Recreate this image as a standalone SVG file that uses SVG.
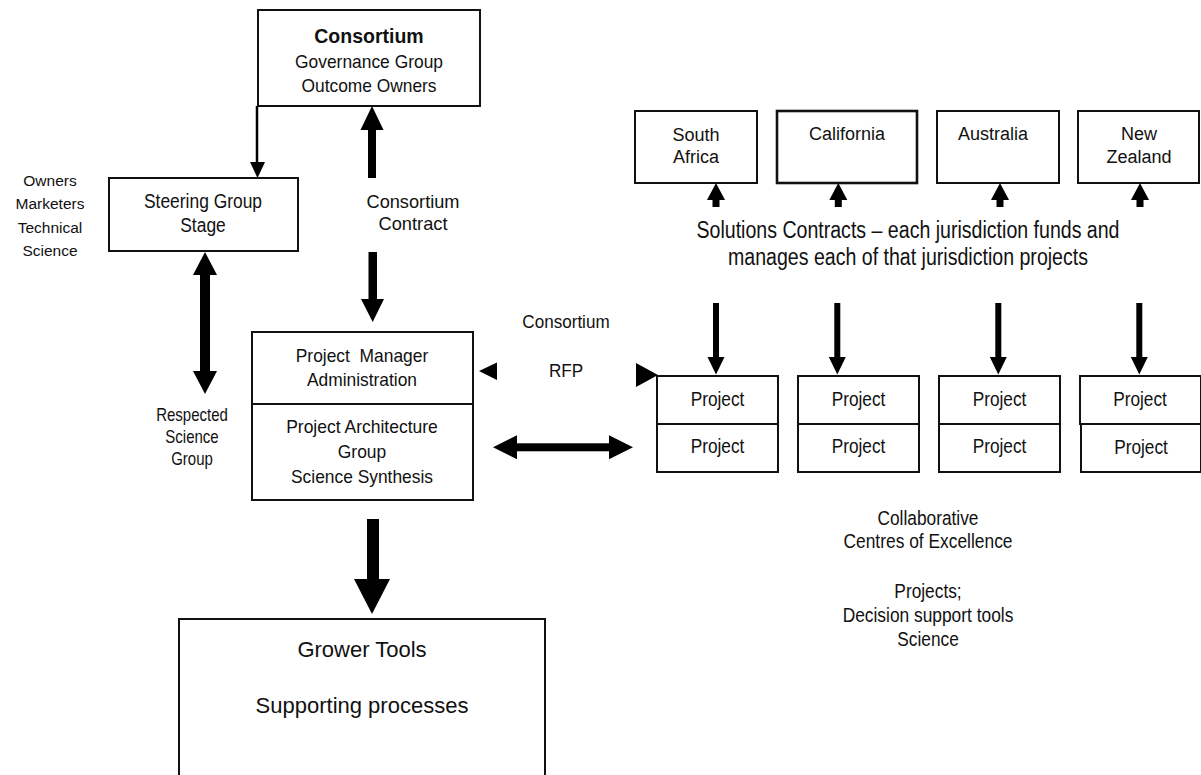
<svg xmlns="http://www.w3.org/2000/svg" width="1201" height="775" viewBox="0 0 1201 775">
<style>
text{font-family:"Liberation Sans",Arial,sans-serif;fill:#111;text-anchor:middle}
.box{fill:#fff;stroke:#111;stroke-width:2}
.arr{fill:#000;stroke:none}
.b{font-weight:bold}
</style>
<rect x="0" y="0" width="1201" height="775" fill="#fff"/>

<g id="consortium">
<rect class="box" x="258" y="10" width="222" height="96"/>
<text class="b" x="369" y="43" font-size="19.5">Consortium</text>
<text x="369" y="68" font-size="18.6" textLength="148" lengthAdjust="spacingAndGlyphs">Governance Group</text>
<text x="369" y="92" font-size="18.6" textLength="135" lengthAdjust="spacingAndGlyphs">Outcome Owners</text>
</g>

<g id="owners-label">
<text x="50" y="186" font-size="15.5">Owners</text>
<text x="50" y="209" font-size="15.5">Marketers</text>
<text x="50" y="233" font-size="15.5">Technical</text>
<text x="50" y="256" font-size="15.5">Science</text>
</g>

<g id="steering">
<rect class="box" x="109" y="178" width="189" height="73"/>
<text x="203" y="208" font-size="20" textLength="118" lengthAdjust="spacingAndGlyphs">Steering Group</text>
<text x="203" y="232" font-size="20" textLength="45.5" lengthAdjust="spacingAndGlyphs">Stage</text>
</g>

<g id="contract-label">
<text x="413" y="208" font-size="18.6" textLength="93" lengthAdjust="spacingAndGlyphs">Consortium</text>
<text x="413" y="230" font-size="18.6" textLength="69" lengthAdjust="spacingAndGlyphs">Contract</text>
</g>

<g id="respected-label">
<text x="192" y="421" font-size="17.7" textLength="71.7" lengthAdjust="spacingAndGlyphs">Respected</text>
<text x="192" y="443" font-size="17.7" textLength="53.4" lengthAdjust="spacingAndGlyphs">Science</text>
<text x="192" y="465" font-size="17.7" textLength="41.7" lengthAdjust="spacingAndGlyphs">Group</text>
</g>

<g id="project-manager">
<rect class="box" x="252" y="332" width="221" height="168"/>
<line x1="252" y1="404" x2="473" y2="404" stroke="#111" stroke-width="2"/>
<text x="362" y="362" font-size="18.6" textLength="132.5" lengthAdjust="spacingAndGlyphs" xml:space="preserve">Project  Manager</text>
<text x="362" y="386" font-size="18.6" textLength="110" lengthAdjust="spacingAndGlyphs">Administration</text>
<text x="362" y="433" font-size="18.6" textLength="151.7" lengthAdjust="spacingAndGlyphs">Project Architecture</text>
<text x="362" y="458" font-size="18.6" textLength="48.4" lengthAdjust="spacingAndGlyphs">Group</text>
<text x="362" y="483" font-size="18.6" textLength="142" lengthAdjust="spacingAndGlyphs">Science Synthesis</text>
</g>

<g id="rfp-label">
<text x="566" y="328" font-size="18.6" textLength="87.3" lengthAdjust="spacingAndGlyphs">Consortium</text>
<text x="566" y="377" font-size="18.6" textLength="34.2" lengthAdjust="spacingAndGlyphs">RFP</text>
</g>

<g id="grower-tools">
<rect class="box" x="179" y="619" width="366" height="170"/>
<text x="362" y="657" font-size="22">Grower Tools</text>
<text x="362" y="713" font-size="22">Supporting processes</text>
</g>

<g id="south-africa">
<rect class="box" x="635" y="111" width="122" height="72"/>
<text x="696" y="141" font-size="18">South</text>
<text x="696" y="163" font-size="18">Africa</text>
</g>
<g id="california">
<rect class="box" x="777" y="111" width="140" height="72" style="stroke-width:2.6"/>
<text x="847" y="140" font-size="18">California</text>
</g>
<g id="australia">
<rect class="box" x="937" y="111" width="122" height="72"/>
<text x="993" y="140" font-size="18">Australia</text>
</g>
<g id="new-zealand">
<rect class="box" x="1078" y="111" width="121" height="72"/>
<text x="1139" y="140" font-size="18">New</text>
<text x="1139" y="163" font-size="18">Zealand</text>
</g>

<g id="solutions-label">
<text x="908" y="238" font-size="23.3" textLength="423" lengthAdjust="spacingAndGlyphs">Solutions Contracts – each jurisdiction funds and</text>
<text x="908" y="265" font-size="23.3" textLength="360" lengthAdjust="spacingAndGlyphs">manages each of that jurisdiction projects</text>
</g>

<g id="projects-1">
<rect class="box" x="657" y="376" width="121" height="96"/>
<line x1="657" y1="424" x2="778" y2="424" stroke="#111" stroke-width="2"/>
<text x="717.5" y="406" font-size="21" textLength="53.7" lengthAdjust="spacingAndGlyphs">Project</text>
<text x="717.5" y="453" font-size="21" textLength="53.7" lengthAdjust="spacingAndGlyphs">Project</text>
</g>
<g id="projects-2">
<rect class="box" x="798" y="376" width="121" height="96"/>
<line x1="798" y1="424" x2="919" y2="424" stroke="#111" stroke-width="2"/>
<text x="858.5" y="406" font-size="21" textLength="53.7" lengthAdjust="spacingAndGlyphs">Project</text>
<text x="858.5" y="453" font-size="21" textLength="53.7" lengthAdjust="spacingAndGlyphs">Project</text>
</g>
<g id="projects-3">
<rect class="box" x="939" y="376" width="121" height="96"/>
<line x1="939" y1="424" x2="1060" y2="424" stroke="#111" stroke-width="2"/>
<text x="999.5" y="406" font-size="21" textLength="53.7" lengthAdjust="spacingAndGlyphs">Project</text>
<text x="999.5" y="453" font-size="21" textLength="53.7" lengthAdjust="spacingAndGlyphs">Project</text>
</g>
<g id="projects-4">
<rect class="box" x="1080" y="376" width="121" height="48"/>
<rect class="box" x="1081" y="424" width="120" height="48"/>
<text x="1140" y="406" font-size="21" textLength="53.7" lengthAdjust="spacingAndGlyphs">Project</text>
<text x="1141" y="454" font-size="21" textLength="53.7" lengthAdjust="spacingAndGlyphs">Project</text>
</g>

<g id="collaborative-label">
<text x="928" y="525" font-size="20.5" textLength="101" lengthAdjust="spacingAndGlyphs">Collaborative</text>
<text x="928" y="548" font-size="20.5" textLength="169" lengthAdjust="spacingAndGlyphs">Centres of Excellence</text>
<text x="928" y="598" font-size="20.5" textLength="67.3" lengthAdjust="spacingAndGlyphs">Projects;</text>
<text x="928" y="622" font-size="20.5" textLength="170.7" lengthAdjust="spacingAndGlyphs">Decision support tools</text>
<text x="928" y="646" font-size="20.5" textLength="61.5" lengthAdjust="spacingAndGlyphs">Science</text>
</g>

<g id="connectors">
<line x1="257" y1="106" x2="257" y2="164" stroke="#000" stroke-width="2.5"/>
<polygon class="arr" points="250,162 265,162 257.5,178"/>
<rect class="arr" x="368" y="128" width="8" height="50"/>
<polygon class="arr" points="360.5,130 383.5,130 372,106"/>
<rect class="arr" x="368.5" y="252" width="8.5" height="49"/>
<polygon class="arr" points="361,299 384,299 372.7,322"/>
<rect class="arr" x="200" y="273" width="10" height="100"/>
<polygon class="arr" points="193,275 217,275 205,252"/>
<polygon class="arr" points="193,371 217,371 205,394"/>
<rect class="arr" x="367" y="519" width="12" height="62"/>
<polygon class="arr" points="354,579 390,579 372,614"/>
<polygon class="arr" points="479,371 497,362.5 497,380"/>
<polygon class="arr" points="658,375 636,363 636,387"/>
<rect class="arr" x="515" y="443.3" width="96" height="8"/>
<polygon class="arr" points="493,447.3 517,435.3 517,459.3"/>
<polygon class="arr" points="633,447.3 609,435.3 609,459.3"/>
<rect class="arr" x="712.5" y="198" width="7" height="9"/>
<polygon class="arr" points="707,200 725,200 716,183"/>
<rect class="arr" x="834.8" y="198" width="7" height="9"/>
<polygon class="arr" points="829.3,200 847.3,200 838.3,183"/>
<rect class="arr" x="996.5" y="198" width="7" height="9"/>
<polygon class="arr" points="991,200 1009,200 1000,183"/>
<rect class="arr" x="1136.5" y="198" width="7" height="9"/>
<polygon class="arr" points="1131,200 1149,200 1140,183"/>
<rect class="arr" x="713" y="303" width="6" height="56"/>
<polygon class="arr" points="707.5,357 724.5,357 716,374.5"/>
<rect class="arr" x="834.3" y="303" width="6" height="56"/>
<polygon class="arr" points="828.8,357 845.8,357 837.3,374.5"/>
<rect class="arr" x="995.3" y="303" width="6" height="56"/>
<polygon class="arr" points="989.8,357 1006.8,357 998.3,374.5"/>
<rect class="arr" x="1136.3" y="303" width="6" height="56"/>
<polygon class="arr" points="1130.8,357 1147.8,357 1139.3,374.5"/>
</g>
</svg>
